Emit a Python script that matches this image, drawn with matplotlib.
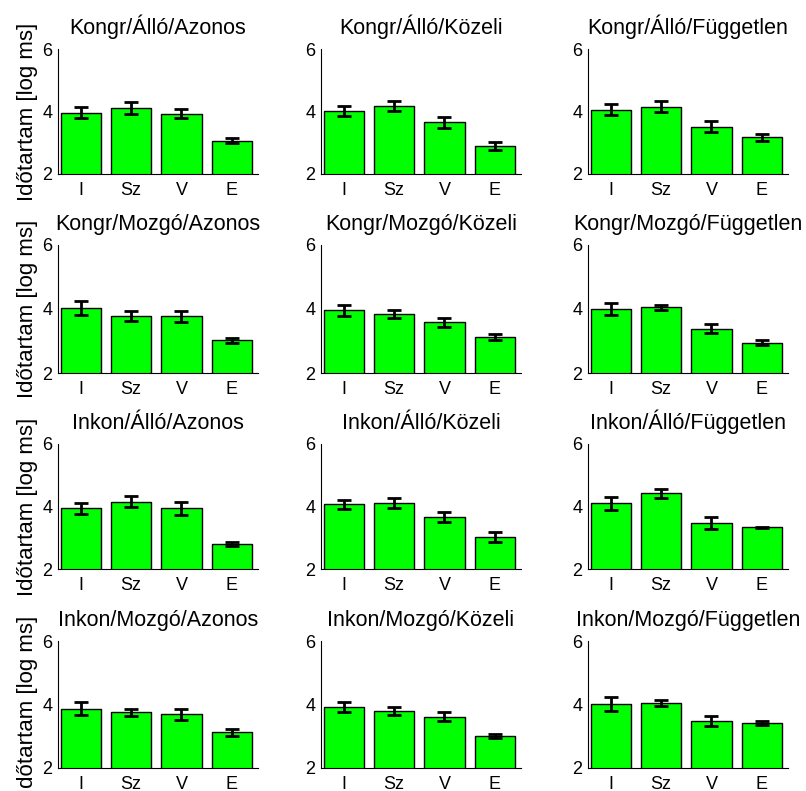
"""Idotartam bar charts, 4x3 grid (MATLAB-like style)."""

import matplotlib
matplotlib.use("Agg")
import matplotlib.pyplot as plt
import numpy as np

plt.rcParams["font.family"] = ["Liberation Sans", "DejaVu Sans"]

categories = ["I", "Sz", "V", "E"]

titles = [
    "Kongr/Álló/Azonos", "Kongr/Álló/Közeli", "Kongr/Álló/Független",
    "Kongr/Mozgó/Azonos", "Kongr/Mozgó/Közeli", "Kongr/Mozgó/Független",
    "Inkon/Álló/Azonos", "Inkon/Álló/Közeli", "Inkon/Álló/Független",
    "Inkon/Mozgó/Azonos", "Inkon/Mozgó/Közeli", "Inkon/Mozgó/Független",
]

# means [log ms], one row per panel (I, Sz, V, E)
kongr_allo_means = [[3.96, 4.11, 3.93, 3.07], [4.02, 4.19, 3.65, 2.89], [4.06, 4.15, 3.52, 3.17]]
kongr_mozgo_means = [[4.04, 3.78, 3.77, 3.02], [3.96, 3.84, 3.58, 3.12], [4.01, 4.05, 3.39, 2.95]]
inkon_allo_means = [[3.94, 4.16, 3.94, 2.80], [4.07, 4.11, 3.66, 3.03], [4.10, 4.42, 3.47, 3.33]]
inkon_mozgo_means = [[3.87, 3.75, 3.69, 3.12], [3.92, 3.79, 3.62, 3.00], [4.01, 4.04, 3.47, 3.42]]

# standard errors
kongr_allo_err = [[0.17, 0.20, 0.15, 0.09], [0.17, 0.16, 0.17, 0.13], [0.17, 0.18, 0.19, 0.10]]
kongr_mozgo_err = [[0.22, 0.15, 0.18, 0.07], [0.17, 0.13, 0.13, 0.10], [0.19, 0.09, 0.14, 0.07]]
inkon_allo_err = [[0.17, 0.17, 0.21, 0.06], [0.15, 0.17, 0.17, 0.15], [0.21, 0.14, 0.19, 0.03]]
inkon_mozgo_err = [[0.20, 0.12, 0.17, 0.10], [0.17, 0.12, 0.13, 0.07], [0.22, 0.10, 0.16, 0.05]]

means = np.array(kongr_allo_means + kongr_mozgo_means + inkon_allo_means + inkon_mozgo_means)
errs = np.array(kongr_allo_err + kongr_mozgo_err + inkon_allo_err + inkon_mozgo_err)

W, H = 806, 791
fig = plt.figure(figsize=(W / 100, H / 100), dpi=100)

col_left = [58, 321, 588]
row_top = [49, 245, 444, 641]
row_bot = [174, 373, 569, 768]
ax_w = 200

x = np.arange(1, 5)
for k in range(12):
    r, c = divmod(k, 3)
    ax = fig.add_axes([col_left[c] / W, 1 - row_bot[r] / H,
                       ax_w / W, (row_bot[r] - row_top[r]) / H])
    ax.bar(x, means[k], width=0.8, color="#00ff00", edgecolor="black", lw=1.0, zorder=2)
    ax.errorbar(x, means[k], yerr=errs[k], fmt="none", ecolor="black",
                elinewidth=2.0, capsize=5, capthick=2.0, zorder=3)
    ax.set_xlim(0.55, 4.52)
    ax.set_ylim(2, 6)
    ax.set_yticks([2, 4, 6])
    ax.set_xticks(x)
    ax.set_xticklabels(categories)
    ax.tick_params(length=0, labelsize=13)
    ax.tick_params(axis="x", pad=5.5)
    ax.tick_params(axis="y", pad=4)
    for s in ("top", "right"):
        ax.spines[s].set_visible(False)
    ax.spines["left"].set_linewidth(0.8)
    ax.spines["bottom"].set_linewidth(0.8)
    ax.set_title(titles[k], fontsize=15.5, pad=11)
    if c == 0:
        ax.set_ylabel("Időtartam [log ms]", fontsize=16, labelpad=3)

fig.savefig("out.png", dpi=100)
